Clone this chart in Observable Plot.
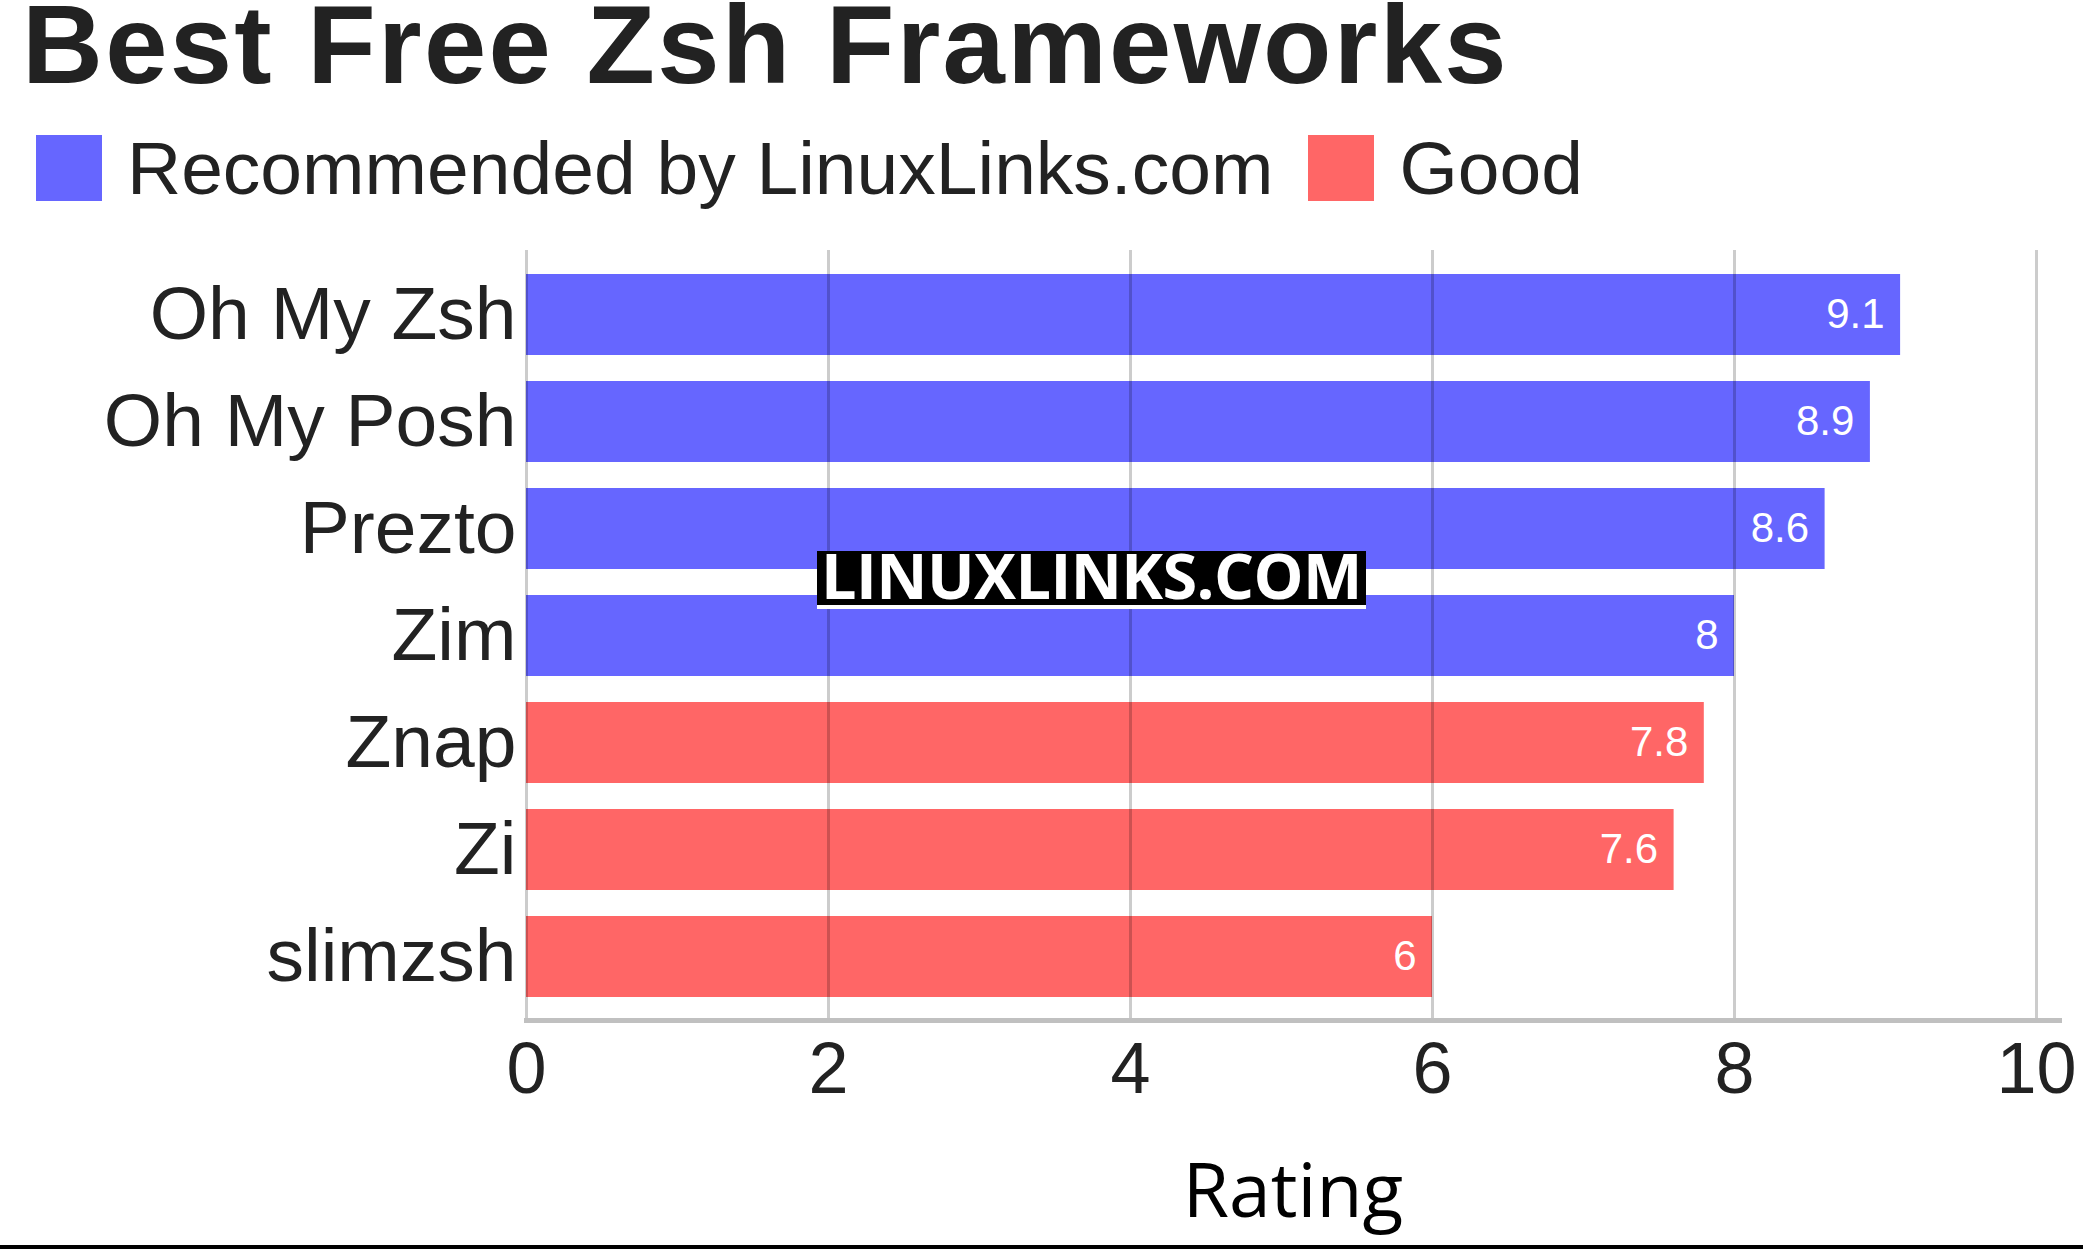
<!DOCTYPE html>
<html>
<head>
<meta charset="utf-8">
<script src="https://cdn.jsdelivr.net/npm/d3@7"></script>
<script src="https://cdn.jsdelivr.net/npm/@observablehq/plot@0.6"></script>
<style>
  html, body { margin: 0; padding: 0; background: #fff; }
  body { width: 2083px; height: 1250px; position: relative; overflow: hidden; font-family: "Liberation Sans", Arial, sans-serif; }
  #title { position: absolute; left: 22px; top: 0px; font-size: 112px; line-height: 90px; letter-spacing: 2.3px; font-weight: bold; color: #222; white-space: nowrap; }
  #legend { position: absolute; left: 36px; top: 135px; display: flex; align-items: flex-start; }
  .sw { width: 66px; height: 66px; flex: none; }
  .lt { font-size: 75px; line-height: 75px; margin-top: -4px; color: #222; white-space: nowrap; margin-left: 25px; margin-right: 35px; }
  #chart { position: absolute; left: 0; top: 230px; }
  #wm { position: absolute; left: 817px; top: 551px; width: 549px; height: 54px; background: #000; border-bottom: 4px solid #fff;
        color: #fff; font-family: "Open Sans", "Noto Sans", sans-serif; font-weight: bold; font-size: 63px; line-height: 48px; letter-spacing: -0.6px; text-align: center; white-space: nowrap; }
  #bottomline { position: absolute; left: 0; top: 1245px; width: 2083px; height: 4px; background: #000; }
</style>
</head>
<body>
<div id="title">Best Free Zsh Frameworks</div>
<div id="legend"></div>
<div id="chart"></div>
<div id="wm">LINUXLINKS.COM</div>
<div id="bottomline"></div>
<script>
// ---- data ----
const names = ["Oh My Zsh", "Oh My Posh", "Prezto", "Zim", "Znap", "Zi", "slimzsh"];
const ratings = [9.1, 8.9, 8.6, 8, 7.8, 7.6, 6];
const groups = [
  "Recommended by LinuxLinks.com", "Recommended by LinuxLinks.com",
  "Recommended by LinuxLinks.com", "Recommended by LinuxLinks.com",
  "Good", "Good", "Good"
];
const groupNames = ["Recommended by LinuxLinks.com", "Good"];
const groupColors = ["#6666ff", "#ff6666"];
const xTicks = [0, 2, 4, 6, 8, 10];
const xLabel = "Rating";

const data = names.map((n, i) => ({name: n, rating: ratings[i], group: groups[i]}));

// legend
const legend = document.getElementById("legend");
groupNames.forEach((g, i) => {
  const sw = document.createElement("div");
  sw.className = "sw";
  sw.style.background = groupColors[i];
  const t = document.createElement("div");
  t.className = "lt";
  t.textContent = g;
  legend.appendChild(sw);
  legend.appendChild(t);
});

const font = "Liberation Sans, Arial, sans-serif";

const plot = Plot.plot({
  width: 2083,
  height: 1010,
  marginTop: 20,
  marginBottom: 220,
  marginLeft: 526,
  marginRight: 24,
  style: {fontFamily: font, background: "transparent", overflow: "visible"},
  x: {domain: [0, 10], insetRight: 23, ticks: xTicks},
  y: {domain: names, paddingInner: 0.245, paddingOuter: 0.1, insetTop: 12, insetBottom: 11},
  color: {domain: groupNames, range: groupColors},
  marks: [
    Plot.barX(data, {x: "rating", y: "name", fill: "group"}),
    Plot.ruleX(xTicks, {stroke: "#000", strokeOpacity: 0.2, strokeWidth: 3}),
    Plot.frame({anchor: "bottom", stroke: "#c0c0c0", strokeWidth: 5}),
    Plot.text(data, {x: "rating", y: "name", text: d => String(d.rating), textAnchor: "end", dx: -16, fill: "#fff", fontSize: 42}),
    Plot.axisX({ticks: xTicks, tickSize: 0, tickPadding: 21, fontSize: 72, fill: "#222", label: null}),
    Plot.axisY({tickSize: 0, tickPadding: 10, fontSize: 75, fill: "#222", label: null}),
    Plot.text([xLabel], {text: d => d, frameAnchor: "bottom", lineAnchor: "top", dy: 143, fontSize: 75, fill: "#000", fontFamily: "Open Sans, Noto Sans, sans-serif"})
  ]
});
document.getElementById("chart").appendChild(plot);
</script>
</body>
</html>
